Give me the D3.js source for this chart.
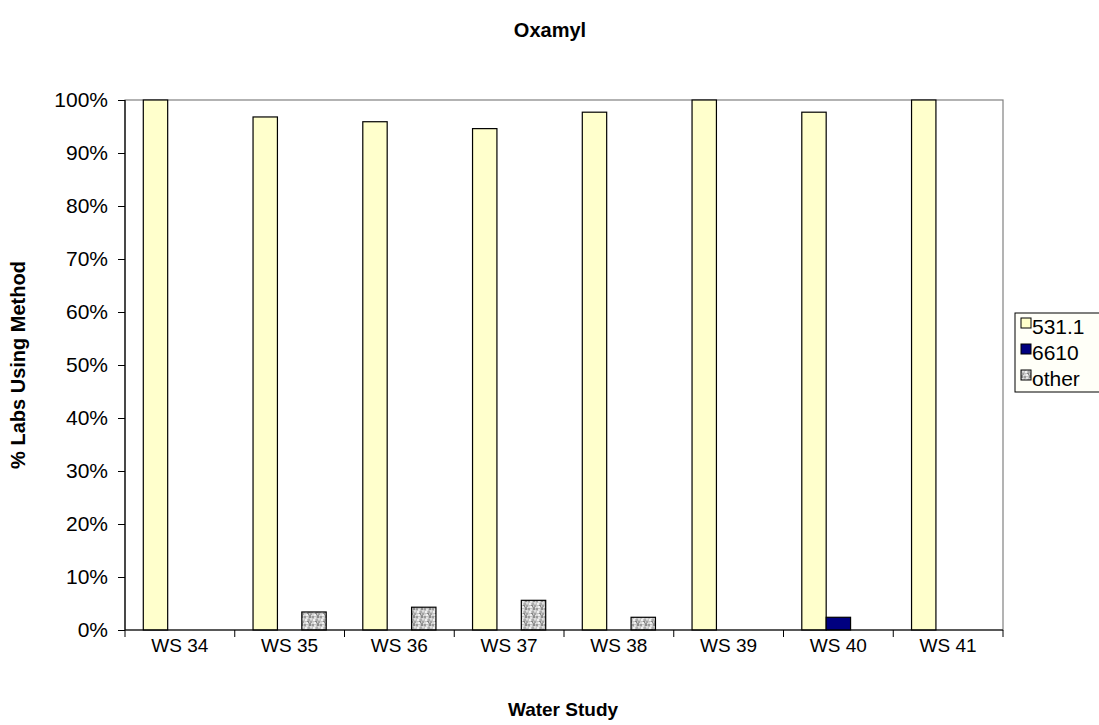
<!DOCTYPE html>
<html><head><meta charset="utf-8">
<script src="https://cdn.jsdelivr.net/npm/d3@7"></script>
<style>body{margin:0;background:#fff;}svg{display:block;font-family:"Liberation Sans",Arial,sans-serif;}</style>
</head><body>
<svg id="c" width="1099" height="725"></svg>
<script>
const categories = ["WS 34","WS 35","WS 36","WS 37","WS 38","WS 39","WS 40","WS 41"];
const seriesNames = ["531.1","6610","other"];
const v531 = [100, 96.8, 95.9, 94.6, 97.7, 100, 97.7, 100];
const v6610 = [0, 0, 0, 0, 0, 0, 2.4, 0];
const vOther = [0, 3.4, 4.3, 5.6, 2.4, 0, 0, 0];
const yTicks = [0,10,20,30,40,50,60,70,80,90,100];

const svg = d3.select("#c");
const L=125, R=1003, T=100, B=630;
const defs = svg.append("defs");
const pat = defs.append("pattern").attr("id","noise").attr("patternUnits","userSpaceOnUse").attr("width",8).attr("height",8);
pat.append("rect").attr("width",8).attr("height",8).attr("fill","#c4c4c4");
const cells = [[0,0,"#9c9c9c"],[2,1,"#e4e4e4"],[5,0,"#8c8c8c"],[1,3,"#f0f0f0"],[4,3,"#acacac"],[6,2,"#dcdcdc"],[3,5,"#888888"],[0,6,"#d8d8d8"],[6,5,"#a4a4a4"],[2,6,"#efefef"],[5,7,"#949494"],[7,7,"#e0e0e0"]];
cells.forEach(c=>pat.append("rect").attr("x",c[0]).attr("y",c[1]).attr("width",2).attr("height",2).attr("fill",c[2]));

const x0 = d3.scaleBand().domain(categories).range([L,R]).paddingInner(0).paddingOuter(0);
const bw = x0.bandwidth();
const x1 = d3.scaleBand().domain(seriesNames).range([bw/6, bw*5/6]);
const y = d3.scaleLinear().domain([0,100]).range([B,T]);

svg.append("rect").attr("x",L).attr("y",T).attr("width",R-L).attr("height",B-T).attr("fill","#fff").attr("stroke","#808080").attr("stroke-width",1.2);

const fills = {"531.1":"#FFFFCC","6610":"#000080","other":"url(#noise)"};
const vals = {"531.1":v531,"6610":v6610,"other":vOther};
categories.forEach((c,i)=>{
  seriesNames.forEach(s=>{
    const v = vals[s][i];
    if(v<=0) return;
    svg.append("rect").attr("x",x0(c)+x1(s)).attr("y",y(v)).attr("width",x1.bandwidth()).attr("height",B-y(v))
      .attr("fill",fills[s]).attr("stroke","#000").attr("stroke-width",1.2);
  });
});

const ya = svg.append("g").attr("transform",`translate(${L},0)`).call(d3.axisLeft(y).tickValues(yTicks).tickSize(7).tickPadding(10).tickFormat(d=>d+"%"));
ya.select(".domain").attr("stroke","#000").attr("stroke-width",1.2).attr("d",`M0,${T}V${B}`);
ya.selectAll(".tick line").attr("stroke","#000");
ya.selectAll("text").attr("font-size",21).attr("fill","#000").attr("font-family","Liberation Sans, Arial, sans-serif");

const xa = svg.append("g").attr("transform",`translate(0,${B})`).call(d3.axisBottom(x0).tickSize(0).tickPadding(9));
xa.select(".domain").attr("stroke","#000").attr("stroke-width",1.2).attr("d",`M${L},0H${R}`);
xa.selectAll("text").attr("font-size",19).attr("fill","#000").attr("font-family","Liberation Sans, Arial, sans-serif");
const edges = categories.map(c=>x0(c)).concat([R]);
xa.selectAll(".edge").data(edges).enter().append("line").attr("x1",d=>d).attr("x2",d=>d).attr("y1",0).attr("y2",7).attr("stroke","#000");

svg.append("text").attr("x",550).attr("y",37).attr("text-anchor","middle").attr("font-size",20).attr("font-weight","bold").text("Oxamyl");
svg.append("text").attr("x",563).attr("y",716).attr("text-anchor","middle").attr("font-size",19).attr("font-weight","bold").text("Water Study");
svg.append("text").attr("transform","translate(25,365) rotate(-90)").attr("text-anchor","middle").attr("font-size",20).attr("font-weight","bold").text("% Labs Using Method");

const lg = svg.append("g");
lg.append("rect").attr("x",1015).attr("y",313).attr("width",120).attr("height",79).attr("fill","#FFFFF8").attr("stroke","#000").attr("stroke-width",1);
seriesNames.forEach((s,i)=>{
  const cy = 326 + i*26;
  lg.append("rect").attr("x",1021).attr("y",cy-8).attr("width",10).attr("height",10).attr("fill",fills[s]).attr("stroke","#000").attr("stroke-width",1);
  lg.append("text").attr("x",1032).attr("y",cy+8).attr("font-size",21).text(s);
});
</script>
</body></html>
